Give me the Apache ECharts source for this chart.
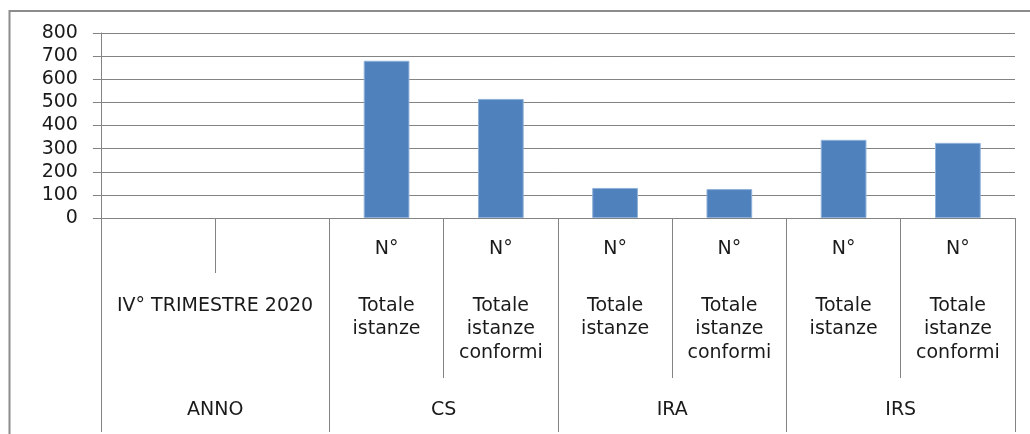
<!DOCTYPE html>
<html>
<head>
<meta charset="utf-8">
<script src="https://cdn.jsdelivr.net/npm/echarts@6/dist/echarts.min.js"></script>
<style>
  html, body { margin: 0; padding: 0; background: #ffffff; }
  #chart { width: 1030px; height: 434px; }
</style>
</head>
<body>
<div id="chart"></div>
<script>
// Data
const innerLabels = ["", "", "N°", "N°", "N°", "N°", "N°", "N°"];
const middleLabels = ["IV° TRIMESTRE 2020", "", "Totale\nistanze", "Totale\nistanze\nconformi", "Totale\nistanze", "Totale\nistanze\nconformi", "Totale\nistanze", "Totale\nistanze\nconformi"];
const groupLabels = ["ANNO", "CS", "IRA", "IRS"];
const values = [null, null, 680, 515, 130, 125, 338, 325];
const yTicks = { min: 0, max: 800, interval: 100 };

const categories = innerLabels.map((l, i) => "c" + i);

const FONT = "DejaVu Sans";
const FS = 19;
const LINE = "#838383";
const TEXT = "#1a1a1a";

const chart = echarts.init(document.getElementById("chart"), null, { renderer: "canvas" });
chart.setOption({
  animation: false,
  backgroundColor: "#ffffff",
  textStyle: { fontFamily: FONT },
  graphic: [{
    type: "rect",
    silent: true,
    z: 100,
    shape: { x: 9.5, y: 11, width: 1200, height: 600 },
    style: { fill: "none", stroke: "#8c8c8c", lineWidth: 2 }
  }],
  grid: { left: 100, right: 15, top: 33, bottom: 216, containLabel: false },
  xAxis: [
    {
      type: "category",
      position: "bottom",
      data: categories,
      axisLine: { show: true, lineStyle: { color: LINE, width: 1 } },
      axisTick: { show: true, length: 55, lineStyle: { color: LINE, width: 1 } },
      axisLabel: {
        interval: 0, margin: 22, fontSize: FS, color: TEXT, fontFamily: FONT,
        formatter: (v, i) => innerLabels[i]
      },
      splitLine: { show: false }
    },
    {
      type: "category",
      position: "bottom",
      offset: 55,
      data: categories,
      axisLine: { show: false },
      axisTick: {
        show: true, length: 105,
        interval: (idx) => idx !== 1,
        lineStyle: { color: LINE, width: 1 }
      },
      axisLabel: {
        interval: 0, margin: 21, fontSize: FS, lineHeight: 23.5, color: TEXT, fontFamily: FONT,
        formatter: (v, i) => i === 0 ? "{a|" + middleLabels[0] + "}" : middleLabels[i],
        rich: { a: { fontSize: FS, fontFamily: FONT, color: TEXT, lineHeight: 23.5, padding: [0, 0, 0, 114] } }
      },
      splitLine: { show: false }
    },
    {
      type: "category",
      position: "bottom",
      offset: 160,
      data: groupLabels,
      axisLine: { show: false },
      axisTick: { show: true, length: 54, lineStyle: { color: LINE, width: 1 } },
      axisLabel: { interval: 0, margin: 23, fontSize: FS, color: TEXT, fontFamily: FONT },
      splitLine: { show: false }
    }
  ],
  yAxis: {
    type: "value",
    min: yTicks.min, max: yTicks.max, interval: yTicks.interval,
    axisLine: { show: true, lineStyle: { color: LINE, width: 1 } },
    axisTick: { show: true, length: 8, lineStyle: { color: LINE, width: 1 } },
    axisLabel: { margin: 23, fontSize: FS, color: TEXT, fontFamily: FONT },
    splitLine: { show: true, lineStyle: { color: LINE, width: 1 } }
  },
  series: [{
    type: "bar",
    xAxisIndex: 0,
    data: values,
    barWidth: "40%",
    itemStyle: { color: "#4F81BD", borderColor: "#8fb0d8", borderWidth: 1 }
  }]
});
</script>
</body>
</html>
